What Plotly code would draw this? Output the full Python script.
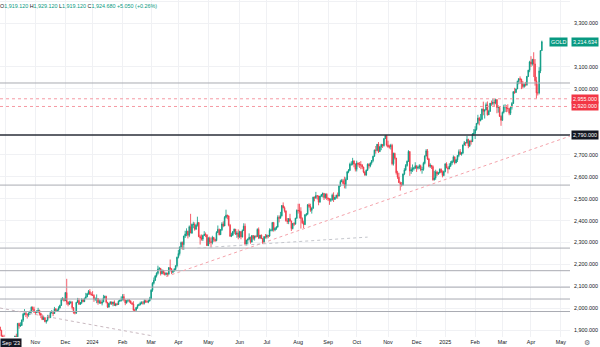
import pandas as pd
import plotly.graph_objects as go

# ---------------- data (TVC:GOLD daily) ----------------
HOLIDAYS = ["2023-12-25", "2024-01-01", "2024-03-29", "2024-12-25", "2025-01-01"]

OPEN = [
    1924, 1933, 1931, 1930, 1919.12, 1925, 1915, 1900, 1874, 1864,  # Sep 23
    1848, 1827, 1822, 1821, 1820, 1833, 1862, 1861, 1874, 1868, 1932, 1920, 1923, 1947, 1974, 1981, 1973, 1970, 1979, 1985, 2006, 1996,  # Oct
    1983, 1982, 1985, 1992, 1977, 1969, 1950, 1958, 1940, 1946, 1963, 1958, 1981, 1981, 1977, 1998, 1990, 1992, 2002, 2014, 2041, 2044,  # Nov
    2036, 2072, 2029, 2019, 2025, 2028, 2004, 1982, 1979, 2027, 2036, 2019, 2027, 2040, 2031, 2046, 2053, 2067, 2077, 2065,  # Dec
    2063, 2059, 2042, 2043, 2045, 2027, 2030, 2024, 2029, 2049, 2055, 2028, 2006, 2023, 2029, 2021, 2029, 2014, 2021, 2018, 2033, 2037,  # Jan 24
    2039, 2054, 2039, 2025, 2035, 2035, 2034, 2024, 2020, 1992, 1992, 2004, 2013, 2017, 2024, 2026, 2024, 2035, 2031, 2029, 2034,  # Feb
    2044, 2083, 2115, 2128, 2148, 2160, 2179, 2182, 2158, 2174, 2162, 2155, 2160, 2157, 2186, 2181, 2165, 2172, 2178, 2195,  # Mar
    2233, 2250, 2280, 2300, 2291, 2330, 2339, 2352, 2333, 2372, 2344, 2383, 2383, 2361, 2379, 2391, 2327, 2322, 2316, 2332, 2337, 2336,  # Apr
    2286, 2320, 2304, 2301, 2323, 2314, 2309, 2346, 2360, 2336, 2358, 2385, 2376, 2415, 2425, 2421, 2379, 2329, 2334, 2350, 2361, 2338, 2343,  # May
    2327, 2350, 2326, 2355, 2375, 2294, 2311, 2316, 2324, 2303, 2332, 2319, 2329, 2328, 2360, 2321, 2334, 2319, 2298, 2327,  # Jun
    2326, 2332, 2330, 2356, 2356, 2392, 2358, 2364, 2371, 2415, 2411, 2422, 2469, 2459, 2445, 2400, 2396, 2409, 2397, 2364, 2387, 2384, 2411,  # Jul
    2447, 2446, 2442, 2410, 2390, 2382, 2427, 2431, 2472, 2465, 2447, 2456, 2507, 2504, 2514, 2512, 2484, 2512, 2518, 2524, 2505, 2520,  # Aug
    2503, 2500, 2493, 2495, 2516, 2497, 2506, 2516, 2512, 2558, 2578, 2582, 2569, 2559, 2587, 2622, 2629, 2657, 2657, 2672, 2658,  # Sep
    2634, 2662, 2657, 2656, 2653, 2644, 2622, 2608, 2630, 2657, 2649, 2663, 2674, 2693, 2721, 2720, 2748, 2715, 2736, 2747, 2742, 2774, 2788,  # Oct
    2744, 2736, 2736, 2743, 2659, 2706, 2685, 2618, 2598, 2573, 2565, 2562, 2612, 2631, 2651, 2670, 2715, 2626, 2632, 2637, 2640,  # Nov
    2650, 2639, 2643, 2650, 2632, 2633, 2661, 2694, 2718, 2681, 2648, 2652, 2646, 2586, 2594, 2622, 2612, 2617, 2634, 2621, 2606,  # Dec
    2624, 2658, 2640, 2636, 2648, 2662, 2670, 2690, 2663, 2677, 2697, 2714, 2702, 2708, 2745, 2755, 2754, 2770, 2740, 2763, 2760, 2794,  # Jan 25
    2798, 2815, 2843, 2867, 2856, 2861, 2908, 2898, 2904, 2928, 2882, 2898, 2935, 2933, 2939, 2936, 2951, 2915, 2916, 2875,  # Feb
    2857, 2893, 2918, 2920, 2911, 2910, 2889, 2917, 2934, 2987, 2984, 3000, 3034, 3047, 3043, 3023, 3011, 3020, 3019, 3057, 3085,  # Mar
    3123, 3113, 3134, 3114, 3037, 2982, 2982, 3082, 3175,  # Apr
]
HIGH = [
    1934, 1936, 1947, 1933, 1929.12, 1927, 1917, 1903, 1880, 1880,
    1850, 1833, 1825, 1826, 1835, 1866, 1867, 1876, 1885, 1934, 1935, 1937, 1950, 1980, 1997, 1984, 1977, 1982, 1990, 2009, 2009, 2008,
    1987, 1993, 2003, 1994, 1980, 1972, 1966, 1960, 1947, 1971, 1971, 1988, 1993, 1983, 2007, 2002, 1996, 2010, 2017, 2048, 2052, 2048,
    2075, 2135, 2033, 2035, 2035, 2034, 2006, 1988, 2030, 2048, 2047, 2028, 2047, 2044, 2049, 2071, 2070, 2084, 2088, 2074,
    2079, 2065, 2050, 2064, 2047, 2041, 2040, 2041, 2062, 2059, 2058, 2030, 2024, 2033, 2032, 2031, 2037, 2023, 2026, 2037, 2040, 2055,
    2065, 2066, 2040, 2039, 2043, 2043, 2037, 2029, 2033, 1998, 2006, 2019, 2022, 2031, 2033, 2034, 2041, 2040, 2038, 2040, 2053,
    2088, 2120, 2141, 2152, 2165, 2195, 2189, 2185, 2178, 2175, 2168, 2165, 2163, 2188, 2223, 2183, 2175, 2184, 2196, 2236,
    2266, 2282, 2305, 2305, 2331, 2354, 2365, 2354, 2378, 2431, 2387, 2395, 2392, 2384, 2418, 2394, 2336, 2337, 2336, 2352, 2346, 2336,
    2326, 2327, 2324, 2331, 2326, 2318, 2352, 2378, 2364, 2362, 2393, 2397, 2421, 2450, 2427, 2424, 2385, 2345, 2352, 2364, 2362, 2352, 2360,
    2354, 2352, 2360, 2388, 2387, 2313, 2318, 2342, 2327, 2333, 2334, 2332, 2334, 2365, 2369, 2335, 2337, 2321, 2330, 2339,
    2338, 2335, 2365, 2363, 2392, 2393, 2370, 2375, 2424, 2424, 2440, 2470, 2483, 2465, 2445, 2412, 2412, 2431, 2401, 2389, 2393, 2413, 2451,
    2477, 2477, 2461, 2415, 2400, 2429, 2433, 2476, 2479, 2477, 2461, 2509, 2510, 2531, 2514, 2514, 2513, 2521, 2528, 2526, 2524, 2525,
    2505, 2502, 2503, 2523, 2529, 2508, 2518, 2528, 2560, 2586, 2590, 2590, 2600, 2597, 2626, 2635, 2664, 2670, 2686, 2675, 2660,
    2673, 2665, 2667, 2671, 2658, 2646, 2625, 2633, 2661, 2661, 2665, 2676, 2696, 2724, 2740, 2749, 2758, 2740, 2750, 2748, 2774, 2790, 2790,
    2764, 2746, 2750, 2750, 2710, 2710, 2686, 2627, 2618, 2578, 2576, 2615, 2639, 2658, 2674, 2721, 2715, 2643, 2656, 2645, 2666,
    2651, 2651, 2657, 2655, 2645, 2668, 2698, 2726, 2726, 2686, 2661, 2653, 2652, 2627, 2632, 2627, 2622, 2638, 2638, 2629, 2628,
    2662, 2666, 2647, 2661, 2671, 2675, 2697, 2693, 2682, 2697, 2724, 2726, 2713, 2746, 2763, 2758, 2786, 2773, 2765, 2769, 2799, 2817,
    2830, 2845, 2882, 2873, 2886, 2911, 2942, 2907, 2938, 2943, 2905, 2936, 2947, 2955, 2953, 2956, 2953, 2925, 2920, 2880,
    2897, 2928, 2930, 2926, 2930, 2913, 2919, 2940, 2990, 3005, 3001, 3038, 3047, 3057, 3047, 3036, 3026, 3032, 3059, 3087, 3128,
    3149, 3137, 3167, 3136, 3055, 3022, 3099, 3175, 3220,
]
LOW = [
    1921, 1926, 1926, 1913, 1919.12, 1911, 1898, 1872, 1857, 1846,
    1824, 1816, 1815, 1813, 1810, 1832, 1855, 1859, 1865, 1867, 1908, 1916, 1920, 1939, 1969, 1961, 1954, 1962, 1970, 1978, 1990, 1980,
    1970, 1978, 1980, 1968, 1956, 1947, 1947, 1937, 1931, 1941, 1955, 1957, 1977, 1965, 1976, 1985, 1987, 1990, 2000, 2012, 2036, 2031,
    2034, 2017, 2010, 2016, 2022, 1995, 1976, 1973, 1975, 2027, 2017, 2016, 2020, 2028, 2029, 2044, 2051, 2062, 2062, 2058,
    2058, 2030, 2035, 2024, 2017, 2021, 2021, 2014, 2029, 2045, 2023, 2002, 2005, 2017, 2016, 2010, 2012, 2010, 2014, 2016, 2030, 2031,
    2037, 2032, 2015, 2022, 2030, 2026, 2022, 2016, 1990, 1984, 1990, 1998, 2012, 2014, 2019, 2017, 2018, 2025, 2027, 2024, 2032,
    2042, 2076, 2109, 2125, 2141, 2154, 2177, 2150, 2156, 2154, 2150, 2150, 2146, 2152, 2170, 2157, 2160, 2167, 2174, 2187,
    2228, 2241, 2270, 2268, 2267, 2321, 2329, 2319, 2325, 2343, 2339, 2366, 2354, 2358, 2373, 2325, 2291, 2309, 2307, 2330, 2325, 2285,
    2285, 2293, 2277, 2292, 2304, 2303, 2306, 2344, 2333, 2335, 2353, 2370, 2375, 2410, 2406, 2374, 2326, 2325, 2331, 2340, 2335, 2322, 2315,
    2321, 2315, 2323, 2353, 2287, 2287, 2293, 2311, 2295, 2300, 2311, 2309, 2322, 2327, 2316, 2316, 2316, 2293, 2297, 2318,
    2318, 2320, 2326, 2351, 2351, 2350, 2352, 2358, 2368, 2392, 2410, 2419, 2456, 2437, 2395, 2385, 2384, 2397, 2353, 2360, 2375, 2383, 2408,
    2432, 2410, 2364, 2385, 2366, 2380, 2420, 2425, 2458, 2440, 2432, 2455, 2488, 2499, 2496, 2470, 2483, 2507, 2506, 2494, 2500, 2494,
    2489, 2472, 2485, 2491, 2485, 2494, 2500, 2500, 2510, 2555, 2575, 2565, 2547, 2546, 2585, 2616, 2626, 2650, 2652, 2643, 2624,
    2624, 2646, 2640, 2634, 2635, 2616, 2604, 2604, 2626, 2637, 2643, 2655, 2666, 2691, 2705, 2716, 2708, 2712, 2721, 2731, 2737, 2772, 2738,
    2732, 2728, 2724, 2652, 2651, 2678, 2610, 2590, 2572, 2537, 2555, 2560, 2607, 2626, 2646, 2667, 2604, 2613, 2622, 2628, 2635,
    2622, 2633, 2635, 2625, 2614, 2627, 2656, 2693, 2676, 2643, 2640, 2635, 2582, 2583, 2586, 2603, 2608, 2616, 2616, 2597, 2602,
    2620, 2639, 2615, 2634, 2645, 2653, 2665, 2656, 2662, 2667, 2689, 2699, 2696, 2703, 2742, 2740, 2750, 2730, 2735, 2746, 2758, 2787,
    2772, 2810, 2838, 2834, 2852, 2860, 2880, 2865, 2903, 2878, 2881, 2895, 2923, 2925, 2919, 2930, 2889, 2892, 2872, 2832,
    2855, 2888, 2895, 2894, 2896, 2880, 2881, 2906, 2932, 2977, 2982, 2999, 3021, 3024, 2999, 3002, 3005, 3011, 3014, 3054, 3076,
    3100, 3106, 3054, 3015, 2956, 2970, 2975, 3072, 3173,
]
CLOSE = [
    1933, 1931, 1930, 1919, 1924.68, 1915, 1900, 1874, 1864, 1848,
    1827, 1822, 1821, 1820, 1833, 1862, 1861, 1874, 1868, 1932, 1920, 1923, 1947, 1974, 1981, 1973, 1970, 1979, 1985, 2006, 1996, 1983,
    1982, 1985, 1992, 1977, 1969, 1950, 1958, 1940, 1946, 1963, 1958, 1981, 1981, 1977, 1998, 1990, 1992, 2002, 2014, 2041, 2044, 2036,
    2072, 2029, 2019, 2025, 2028, 2004, 1982, 1979, 2027, 2036, 2019, 2027, 2040, 2031, 2046, 2053, 2067, 2077, 2065, 2063,
    2059, 2042, 2043, 2045, 2027, 2030, 2024, 2029, 2049, 2055, 2028, 2006, 2023, 2029, 2021, 2029, 2014, 2021, 2018, 2033, 2037, 2039,
    2054, 2039, 2025, 2035, 2035, 2034, 2024, 2020, 1992, 1992, 2004, 2013, 2017, 2024, 2026, 2024, 2035, 2031, 2029, 2034, 2044,
    2083, 2115, 2128, 2148, 2160, 2179, 2182, 2158, 2174, 2162, 2155, 2160, 2157, 2186, 2181, 2165, 2172, 2178, 2195, 2233,
    2250, 2280, 2300, 2291, 2330, 2339, 2352, 2333, 2372, 2344, 2383, 2383, 2361, 2379, 2391, 2327, 2322, 2316, 2332, 2337, 2336, 2286,
    2320, 2304, 2301, 2323, 2314, 2309, 2346, 2360, 2336, 2358, 2385, 2376, 2415, 2425, 2421, 2379, 2329, 2334, 2350, 2361, 2338, 2343, 2327,
    2350, 2326, 2355, 2375, 2294, 2311, 2316, 2324, 2303, 2332, 2319, 2329, 2328, 2360, 2321, 2334, 2319, 2298, 2327, 2326,
    2332, 2330, 2356, 2356, 2392, 2358, 2364, 2371, 2415, 2411, 2422, 2469, 2459, 2445, 2400, 2396, 2409, 2397, 2364, 2387, 2384, 2411, 2447,
    2446, 2442, 2410, 2390, 2382, 2427, 2431, 2472, 2465, 2447, 2456, 2507, 2504, 2514, 2512, 2484, 2512, 2518, 2524, 2505, 2520, 2503,
    2500, 2493, 2495, 2516, 2497, 2506, 2516, 2512, 2558, 2578, 2582, 2569, 2559, 2587, 2622, 2629, 2657, 2657, 2672, 2658, 2634,
    2662, 2657, 2656, 2653, 2644, 2622, 2608, 2630, 2657, 2649, 2663, 2674, 2693, 2721, 2720, 2748, 2715, 2736, 2747, 2742, 2774, 2788, 2744,
    2736, 2736, 2743, 2659, 2706, 2685, 2618, 2598, 2573, 2565, 2562, 2612, 2631, 2651, 2670, 2715, 2626, 2632, 2637, 2640, 2650,
    2639, 2643, 2650, 2632, 2633, 2661, 2694, 2718, 2681, 2648, 2652, 2646, 2586, 2594, 2622, 2612, 2617, 2634, 2621, 2606, 2624,
    2658, 2640, 2636, 2648, 2662, 2670, 2690, 2663, 2677, 2697, 2714, 2702, 2708, 2745, 2755, 2754, 2770, 2740, 2763, 2760, 2794, 2798,
    2815, 2843, 2867, 2856, 2861, 2908, 2898, 2904, 2928, 2882, 2898, 2935, 2933, 2939, 2936, 2951, 2915, 2916, 2875, 2857,
    2893, 2918, 2920, 2911, 2910, 2889, 2917, 2934, 2987, 2984, 3000, 3034, 3047, 3043, 3023, 3011, 3020, 3019, 3057, 3085, 3123,
    3113, 3134, 3114, 3037, 2982, 2982, 3082, 3175, 3214.634,
]

LAST_PRICE = 3214.634
SYMBOL = "GOLD"
HEADER = {"O": "1,919.120", "H": "1,929.120", "L": "1,919.120", "C": "1,924.680", "chg": "+5.050 (+0.26%)"}
CROSSHAIR_LABEL = "Sep '23"

LEVELS_GRAY = [3027, 2562, 2275, 2172, 2097, 2043, 1986]
LEVEL_BLACK = 2790
LEVELS_RED = [2955, 2920]
TREND_UP = [("2024-03-18", 2145), ("2025-05-09 16:00", 2785)]
TREND_FLAT = [("2024-04-19", 2275), ("2024-10-11", 2325)]
TREND_DOWN = [("2023-09-26", 2002), ("2024-03-04", 1875)]

# price-scale labels (2,800 / 2,900 / 3,200 sit under the coloured tags)
PRICE_TICKS = [1900, 2000, 2100, 2200, 2300, 2400, 2500, 2600, 2700, 3000, 3100, 3300, 3400]
X_RANGE = ["2023-09-26", "2025-05-09 16:00"]
Y_RANGE = [1870, 3405]

# ---------------- style ----------------
UP = "#089981"
DOWN = "#F23645"
FONT = "Liberation Sans"
W, H = 600, 347
ML, MR, MT, MB = 0, 30, 0, 10
PW, PH = W - ML - MR, H - MT - MB

n = min(len(OPEN), len(HIGH), len(LOW), len(CLOSE))
dates = pd.bdate_range("2023-09-18", periods=n, freq="C", holidays=HOLIDAYS)

fig = go.Figure()
fig.add_trace(go.Candlestick(
    x=dates, open=OPEN[:n], high=HIGH[:n], low=LOW[:n], close=CLOSE[:n],
    increasing=dict(line=dict(color=UP, width=0.8), fillcolor=UP),
    decreasing=dict(line=dict(color=DOWN, width=0.8), fillcolor=DOWN),
    whiskerwidth=0, showlegend=False, hoverinfo="skip",
))

# month ticks at first trading day of each month (Oct '23 sits under the crosshair tag)
s = pd.Series(dates)
firsts = list(s.groupby([s.dt.year, s.dt.month]).first())
tickvals = [d for d in firsts if d >= pd.Timestamp("2023-11-01")] + [pd.Timestamp("2025-05-01")]
ticktext = [d.strftime("%Y") if d.month == 1 else d.strftime("%b") for d in tickvals]

shapes = []
for lv in LEVELS_GRAY:
    shapes.append(dict(type="line", xref="paper", x0=0, x1=1, yref="y", y0=lv, y1=lv,
                       line=dict(color="#a9abb2", width=1)))
for lv in LEVELS_RED:
    shapes.append(dict(type="line", xref="paper", x0=0, x1=1, yref="y", y0=lv, y1=lv,
                       line=dict(color="#f59aa3", width=1, dash="3px,3px")))
shapes.append(dict(type="line", xref="paper", x0=0, x1=1, yref="y", y0=LEVEL_BLACK, y1=LEVEL_BLACK,
                   line=dict(color="#2a2e39", width=1.5)))
for (p0, p1), col in ((TREND_UP, "#f4a3ab"), (TREND_FLAT, "#c4c6cc"), (TREND_DOWN, "#c9b9c0")):
    shapes.append(dict(type="line", xref="x", yref="y", x0=p0[0], y0=p0[1], x1=p1[0], y1=p1[1],
                       line=dict(color=col, width=1, dash="3px,3px")))
shapes.append(dict(type="line", xref="x", yref="paper", x0=firsts[1], x1=firsts[1], y0=0, y1=1,
                   line=dict(color="#f0f1f4", width=1), layer="below"))

annotations = []
g = UP
hdr = (f"O<span style='color:{g}'>{HEADER['O']}</span> H<span style='color:{g}'>{HEADER['H']}</span> "
       f"L<span style='color:{g}'>{HEADER['L']}</span> C<span style='color:{g}'>{HEADER['C']}</span> "
       f"<span style='color:{g}'>{HEADER['chg']}</span>")
annotations.append(dict(xref="paper", yref="paper", x=-2 / PW, y=1 - 1 / PH, xanchor="left", yanchor="top",
                        text=hdr, showarrow=False, font=dict(family=FONT, size=5.4, color="#131722")))


def axis_label(price, text, bg):
    return dict(xref="paper", yref="y", x=1, y=price, xanchor="left", yanchor="middle", xshift=1,
                text=text, showarrow=False, bgcolor=bg, borderpad=1,
                font=dict(family=FONT, size=5.4, color="white"))


annotations.append(axis_label(LAST_PRICE, f"{LAST_PRICE:,.3f}", UP))
annotations.append(dict(xref="paper", yref="y", x=1, y=LAST_PRICE, xanchor="right", yanchor="middle",
                        xshift=-2, text=SYMBOL, showarrow=False, bgcolor=UP, borderpad=1,
                        font=dict(family=FONT, size=5.4, color="white")))
for lv in LEVELS_RED:
    annotations.append(axis_label(lv, f"{lv:,.3f}", DOWN))
annotations.append(axis_label(LEVEL_BLACK, f"{LEVEL_BLACK:,.3f}", "#131722"))
annotations.append(dict(xref="paper", yref="paper", x=0, y=-6 / PH, xanchor="left", yanchor="middle",
                        text=CROSSHAIR_LABEL, showarrow=False, bgcolor="#131722", borderpad=1,
                        font=dict(family=FONT, size=5.4, color="white")))
annotations.append(dict(xref="paper", yref="paper", x=(587 - ML) / PW, y=-6 / PH, xanchor="center",
                        yanchor="middle", text="⚙", showarrow=False,
                        font=dict(family="DejaVu Sans", size=7, color="#6a6d78")))

fig.update_layout(
    width=W, height=H, margin=dict(l=ML, r=MR, t=MT, b=MB),
    paper_bgcolor="white", plot_bgcolor="white",
    font=dict(family=FONT, size=5.4, color="#131722"),
    shapes=shapes, annotations=annotations, showlegend=False,
    xaxis=dict(
        type="date", range=X_RANGE, rangeslider=dict(visible=False),
        rangebreaks=[dict(bounds=["sat", "mon"]), dict(values=HOLIDAYS)],
        tickmode="array", tickvals=tickvals, ticktext=ticktext,
        showgrid=True, gridcolor="#f0f1f4", gridwidth=1, zeroline=False, showline=False,
        ticks="", tickfont=dict(family=FONT, size=5.4, color="#131722"), ticklabelstandoff=1,
    ),
    yaxis=dict(
        side="right", range=Y_RANGE, tickmode="array", tickvals=PRICE_TICKS,
        tickformat=",.3f", showgrid=True, gridcolor="#f0f1f4", gridwidth=1, zeroline=False,
        showline=False, ticks="", tickfont=dict(family=FONT, size=5.4, color="#131722"),
        ticklabelstandoff=3,
    ),
)

fig.write_html("out.html")
